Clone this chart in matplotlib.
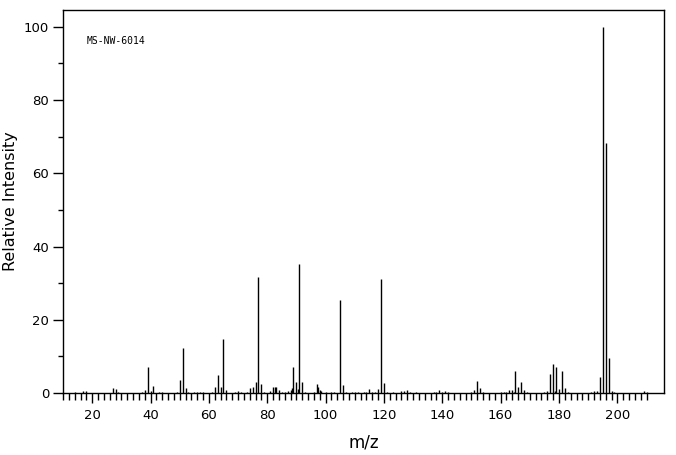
import matplotlib
matplotlib.use("Agg")
import matplotlib.pyplot as plt
from matplotlib.ticker import FixedLocator

# peaks (m/z, relative intensity)
mz = [14, 17, 18, 27, 28, 29, 37, 38, 39, 40, 41, 43, 44,
      49, 50, 51, 52, 53, 55, 56, 57, 58, 61, 62, 63, 64, 65, 66,
      69, 70, 71, 73, 74, 75, 76, 77, 78, 79, 81, 82, 82.5, 83, 84, 85, 86, 87, 88, 88.5,
      89, 90, 90.5, 91, 92, 93, 96, 97, 97.5, 98, 98.5, 100, 102, 103,
      105, 106, 107, 109, 110, 111, 113, 114, 115, 116, 117, 118, 119, 120, 121, 123,
      126, 127, 128, 129, 131, 137, 138, 139, 140, 141, 142,
      150, 151, 152, 153, 154, 160, 161, 162, 163, 164, 164.5, 165, 166, 167, 168, 169,
      175, 176, 177, 178, 178.5, 179, 180, 181, 182, 183,
      191, 192, 193, 194, 195, 196, 197, 198, 199, 209, 210]
intensity = [0.3, 0.5, 0.5, 1.3, 1.0, 0.4, 0.4, 0.8, 7.1, 0.5, 1.9, 0.4, 0.3,
             0.3, 3.6, 12.2, 1.4, 0.4, 0.3, 0.3, 0.3, 0.3, 0.3, 1.6, 4.9, 1.6, 14.8, 0.8,
             0.3, 0.6, 0.3, 0.4, 1.3, 1.6, 3.0, 31.6, 2.5, 0.3, 0.6, 1.6, 1.5, 1.5, 0.7, 0.4, 0.4, 0.5, 0.8, 1.4,
             7.1, 3.0, 1.0, 35.1, 3.1, 0.4, 0.4, 2.5, 1.6, 0.9, 0.5, 0.4, 0.4, 0.4,
             25.3, 2.2, 0.3, 0.4, 0.4, 0.3, 0.3, 0.4, 1.1, 0.3, 0.3, 1.1, 31.1, 2.8, 0.3, 0.3,
             0.5, 0.6, 0.8, 0.4, 0.3, 0.3, 0.4, 0.8, 0.4, 0.6, 0.3,
             0.3, 0.8, 3.3, 1.4, 0.3, 0.3, 0.3, 0.3, 0.8, 0.8, 0.4, 6.0, 1.6, 3.0, 0.8, 0.4,
             0.3, 0.5, 5.3, 7.9, 0.5, 7.1, 1.1, 6.0, 1.4, 0.3,
             0.3, 0.5, 0.5, 4.5, 100.0, 68.2, 9.6, 0.6, 0.3, 0.5, 0.3]

x_major = list(range(20, 201, 20))
x_minor = list(range(10, 211, 2))

fig = plt.figure(figsize=(6.76, 4.55), dpi=100)
ax = fig.add_axes([0.0932, 0.1363, 0.8891, 0.8417])

ax.vlines(mz, 0, intensity, color="black", linewidth=1.0)

ax.set_xlim(10, 216)
ax.set_ylim(0, 104.6)

ax.xaxis.set_major_locator(FixedLocator(x_major))
ax.xaxis.set_minor_locator(FixedLocator([t for t in x_minor if t not in x_major]))
ax.yaxis.set_major_locator(FixedLocator(range(0, 101, 20)))
ax.yaxis.set_minor_locator(FixedLocator(range(10, 100, 20)))

ax.tick_params(axis="x", which="major", direction="out", length=7.5, width=1, labelsize=9.5, pad=4)
ax.tick_params(axis="x", which="minor", direction="out", length=5, width=1)
ax.tick_params(axis="y", which="major", direction="out", length=7, width=1, labelsize=9.5, pad=3)
ax.tick_params(axis="y", which="minor", direction="out", length=3.6, width=1)

for s in ax.spines.values():
    s.set_linewidth(1)
    s.set_color("black")

ax.set_xlabel("m/z", fontsize=12, labelpad=8)
ax.set_ylabel("Relative Intensity", fontsize=11.5, labelpad=4)

ax.text(0.04, 0.919, "MS-NW-6014", transform=ax.transAxes,
        fontsize=7, family="DejaVu Sans Mono", va="center", ha="left")

fig.savefig("out.png", dpi=100)
